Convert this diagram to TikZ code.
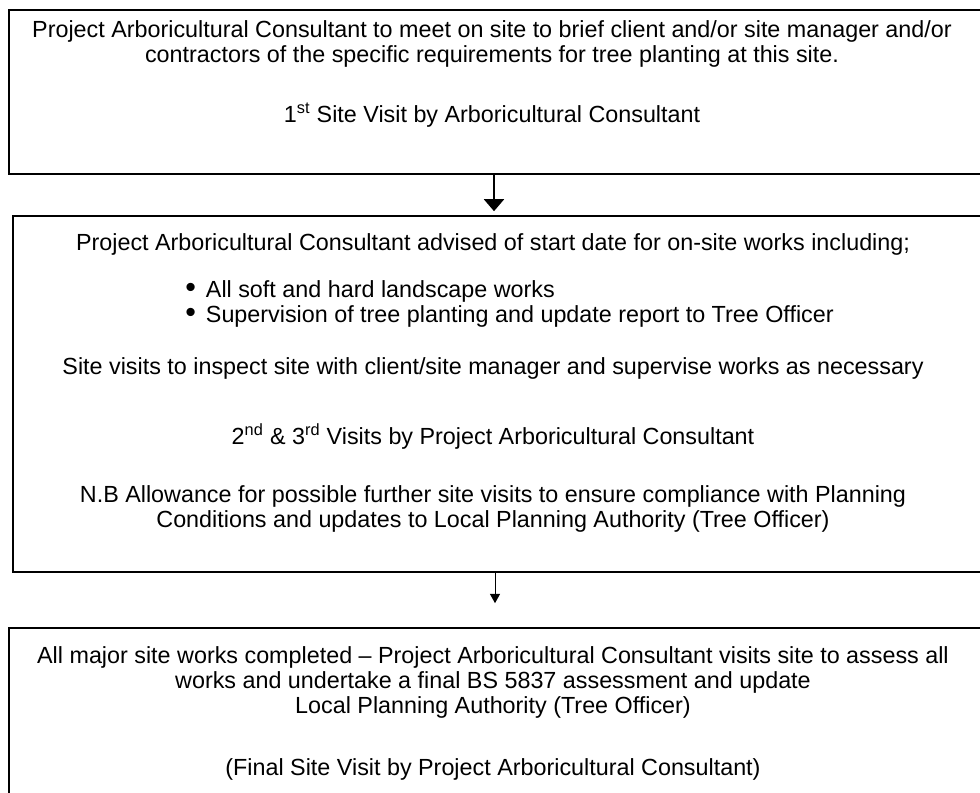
\documentclass[tikz,border=0pt]{standalone}
\usepackage{fontspec}
\setmainfont{Liberation Sans}
\usetikzlibrary{arrows.meta,positioning}

\tikzset{
  stage/.style={draw, rectangle, line width=1.2pt, inner sep=0pt, minimum width=732pt},
  txt/.style={anchor=base, inner sep=0pt, align=center, font=\fontsize{17.5}{18.75}\selectfont},
  bigarrow/.style={-{Triangle[width=15pt,length=9pt]}, line width=1.5pt, shorten >=3pt},
  smallarrow/.style={-{Triangle[width=7.5pt,length=7pt]}, line width=0.75pt, shorten >=18pt},
}
\newcommand{\bul}{\makebox[15.5pt][l]{\scalebox{1.3}{\textbullet}}}

\begin{document}
\begin{tikzpicture}[x=0.75pt,y=-0.75pt]
\useasboundingbox (0,0) rectangle (980,792);

% the three stages
\node[stage, minimum height=123pt] (b1) at (497,92) {};
\node[stage, minimum width=729pt, minimum height=267pt] (b2) at (499,394) {};
\node[stage, minimum height=136.5pt] (b3) at (497,719) {};

% first visit (base of a multi-line node = its last line)
\node[txt] (t1a) at (492,63) {Project Arboricultural Consultant to meet on site to brief client and/or site manager and/or\\
  contractors of the specific requirements for tree planting at this site.};
\node[txt] (t1b) at (492,122) {1\textsuperscript{st} Site Visit by Arboricultural Consultant};

% works on site
\node[txt] (t2a) at (493,250) {Project Arboricultural Consultant advised of start date for on-site works including;};
\node[txt, align=left, anchor=base west] (t2b) at (185,322) {\bul All soft and hard landscape works\\
  \bul Supervision of tree planting and update report to Tree Officer};
\node[txt] (t2c) at (493,374) {Site visits to inspect site with client/site manager and supervise works as necessary};
\node[txt] (t2d) at (493,444) {2\textsuperscript{nd} \& 3\textsuperscript{rd} Visits by Project Arboricultural Consultant};
\node[txt] (t2e) at (493,527) {N.B Allowance for possible further site visits to ensure compliance with Planning\\
  Conditions and updates to Local Planning Authority (Tree Officer)};

% final visit
\node[txt] (t3a) at (493,713) {All major site works completed -- Project Arboricultural Consultant visits site to assess all\\
  works and undertake a final BS 5837 assessment and update\\
  Local Planning Authority (Tree Officer)};
\node[txt] (t3b) at (493,775) {(Final Site Visit by Project Arboricultural Consultant)};

\draw[bigarrow] ([xshift=-2.25pt]b1.south) -- ([xshift=-2.25pt]b1.south |- b2.north);
\draw[smallarrow] ([xshift=-3pt]b2.south) -- ([xshift=-3pt]b2.south |- b3.north);
\end{tikzpicture}
\end{document}
